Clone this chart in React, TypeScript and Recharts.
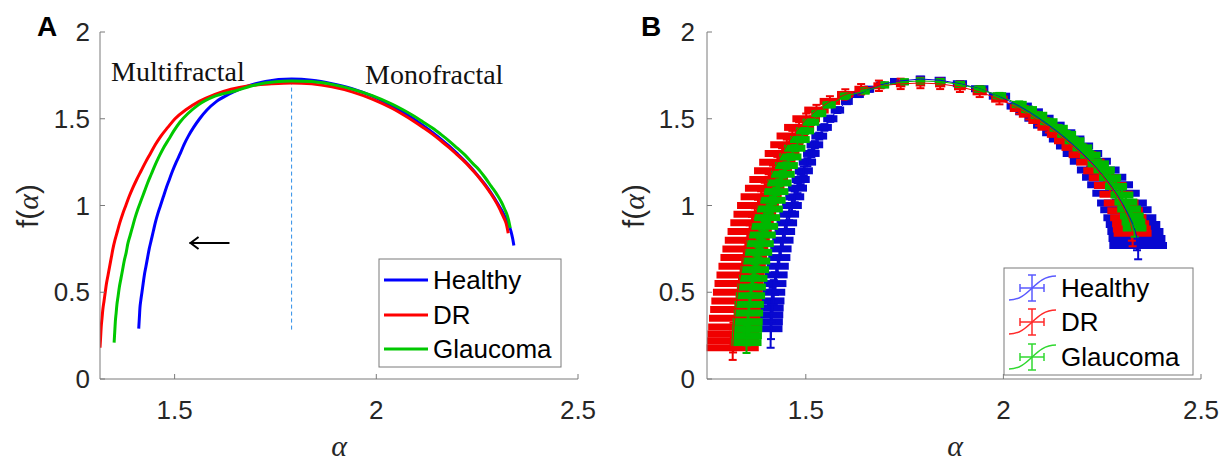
import React from "react";
import {
  ComposedChart,
  ScatterChart,
  Line,
  Scatter,
  ErrorBar,
  XAxis,
  YAxis,
  ReferenceLine,
} from "recharts";

// mean multifractal spectra (alpha, f(alpha))
const healthyAlpha = [
  1.411, 1.412, 1.413, 1.414, 1.416, 1.419, 1.422, 1.425, 1.429, 1.433, 1.437, 1.442, 1.447, 1.452, 1.458,
  1.465, 1.472, 1.479, 1.487, 1.495, 1.504, 1.514, 1.523, 1.534, 1.547, 1.562, 1.58, 1.604, 1.633, 1.66,
  1.69, 1.725, 1.79,
  1.84, 1.89, 1.94, 1.99, 2.04, 2.065, 2.09, 2.115, 2.14, 2.16, 2.18, 2.2, 2.22, 2.24, 2.255, 2.27, 2.285,
  2.3, 2.31, 2.32, 2.328, 2.334, 2.338, 2.341,
];
const healthyF = [
  0.29, 0.33, 0.37, 0.41, 0.45, 0.5, 0.55, 0.6, 0.65, 0.7, 0.75, 0.8, 0.85, 0.9, 0.95, 1.0, 1.05, 1.1,
  1.15, 1.2, 1.25, 1.3, 1.35, 1.4, 1.45, 1.5, 1.55, 1.6, 1.64, 1.67, 1.695, 1.715, 1.729,
  1.722, 1.702, 1.673, 1.63, 1.573, 1.54, 1.503, 1.463, 1.42, 1.383, 1.343, 1.3, 1.255, 1.205, 1.163, 1.12,
  1.07, 1.015, 0.975, 0.93, 0.89, 0.85, 0.81, 0.77,
];
const drAlpha = [
  1.315, 1.316, 1.317, 1.318, 1.32, 1.322, 1.325, 1.328, 1.331, 1.335, 1.339, 1.343, 1.347, 1.352, 1.358,
  1.364, 1.371, 1.379, 1.387, 1.396, 1.406, 1.417, 1.428, 1.44, 1.452, 1.466, 1.483, 1.501, 1.527, 1.561,
  1.6, 1.64, 1.685, 1.74, 1.79,
  1.84, 1.89, 1.94, 1.99, 2.04, 2.065, 2.09, 2.115, 2.14, 2.16, 2.18, 2.2, 2.22, 2.24, 2.255, 2.27, 2.285,
  2.298, 2.308, 2.316, 2.322, 2.325, 2.327,
];
const drF = [
  0.18, 0.22, 0.26, 0.3, 0.35, 0.4, 0.45, 0.5, 0.55, 0.6, 0.65, 0.7, 0.75, 0.8, 0.85, 0.9, 0.95, 1.0, 1.05,
  1.1, 1.15, 1.2, 1.25, 1.3, 1.35, 1.4, 1.45, 1.5, 1.55, 1.6, 1.64, 1.67, 1.69, 1.701, 1.706,
  1.701, 1.684, 1.655, 1.613, 1.559, 1.526, 1.49, 1.451, 1.41, 1.373, 1.335, 1.293, 1.25, 1.2, 1.16, 1.115,
  1.065, 1.015, 0.97, 0.93, 0.895, 0.865, 0.84,
];
const glaucomaAlpha = [
  1.35, 1.351, 1.352, 1.353, 1.355, 1.357, 1.36, 1.363, 1.367, 1.371, 1.375, 1.38, 1.384, 1.39, 1.396,
  1.402, 1.409, 1.417, 1.425, 1.433, 1.442, 1.451, 1.461, 1.472, 1.485, 1.498, 1.513, 1.533, 1.559, 1.6,
  1.65, 1.7, 1.75, 1.79,
  1.84, 1.89, 1.94, 1.99, 2.04, 2.065, 2.09, 2.115, 2.14, 2.16, 2.18, 2.2, 2.22, 2.24, 2.255, 2.27, 2.285,
  2.3, 2.31, 2.318, 2.325, 2.329, 2.332,
];
const glaucomaF = [
  0.21, 0.25, 0.29, 0.33, 0.38, 0.43, 0.48, 0.53, 0.58, 0.63, 0.68, 0.73, 0.78, 0.83, 0.88, 0.93, 0.98,
  1.03, 1.08, 1.13, 1.18, 1.23, 1.28, 1.33, 1.38, 1.43, 1.48, 1.53, 1.58, 1.63, 1.66, 1.695, 1.713, 1.718,
  1.714, 1.698, 1.671, 1.633, 1.583, 1.553, 1.52, 1.483, 1.445, 1.41, 1.373, 1.332, 1.29, 1.24, 1.205, 1.16,
  1.11, 1.06, 1.02, 0.98, 0.94, 0.905, 0.87,
];

// spread across subjects, drawn as error bars in panel B
const healthyErrA = [
  0.03, 0.03, 0.03, 0.03, 0.03, 0.029, 0.029, 0.029, 0.028, 0.028, 0.027, 0.027, 0.026, 0.026, 0.025, 0.025,
  0.024, 0.024, 0.023, 0.023, 0.022, 0.021, 0.021, 0.02, 0.019, 0.018, 0.017, 0.015, 0.014, 0.013, 0.012,
  0.012, 0.012,
  0.014, 0.018, 0.022, 0.027, 0.032, 0.035, 0.037, 0.04, 0.042, 0.045, 0.047, 0.05, 0.052, 0.054, 0.056,
  0.058, 0.06, 0.063, 0.065, 0.067, 0.069, 0.071, 0.072, 0.073,
];
const healthyErrF = [
  0.11, 0.1, 0.09, 0.08, 0.075, 0.07, 0.065, 0.06, 0.055, 0.05, 0.047, 0.044, 0.041, 0.038, 0.035, 0.033,
  0.031, 0.029, 0.027, 0.025, 0.023, 0.022, 0.021, 0.02, 0.019, 0.018, 0.017, 0.016, 0.015, 0.014, 0.013,
  0.013, 0.013,
  0.013, 0.014, 0.015, 0.016, 0.018, 0.019, 0.02, 0.021, 0.022, 0.024, 0.025, 0.027, 0.028, 0.03, 0.032,
  0.034, 0.036, 0.04, 0.043, 0.047, 0.052, 0.058, 0.068, 0.08,
];
const drErrA = [
  0.066, 0.066, 0.066, 0.065, 0.065, 0.064, 0.064, 0.063, 0.062, 0.061, 0.06, 0.059, 0.058, 0.057, 0.056,
  0.055, 0.054, 0.053, 0.052, 0.05, 0.049, 0.048, 0.046, 0.044, 0.042, 0.04, 0.038, 0.035, 0.031, 0.026,
  0.021, 0.017, 0.014, 0.012, 0.012,
  0.013, 0.015, 0.018, 0.021, 0.024, 0.026, 0.027, 0.029, 0.03, 0.032, 0.033, 0.035, 0.036, 0.038, 0.039,
  0.041, 0.042, 0.044, 0.045, 0.046, 0.047, 0.048, 0.048,
];
const drErrF = [
  0.07, 0.067, 0.064, 0.06, 0.056, 0.052, 0.048, 0.045, 0.043, 0.041, 0.04, 0.039, 0.038, 0.037, 0.036,
  0.035, 0.034, 0.033, 0.032, 0.031, 0.03, 0.03, 0.03, 0.03, 0.03, 0.03, 0.03, 0.03, 0.03, 0.03, 0.03, 0.03,
  0.03, 0.03, 0.03,
  0.03, 0.03, 0.03, 0.03, 0.03, 0.03, 0.03, 0.03, 0.03, 0.03, 0.03, 0.03, 0.031, 0.033, 0.035, 0.038, 0.042,
  0.046, 0.05, 0.056, 0.062, 0.068, 0.075,
];
const glaucomaErrA = [
  0.038, 0.038, 0.038, 0.038, 0.037, 0.037, 0.037, 0.036, 0.036, 0.036, 0.035, 0.035, 0.035, 0.034, 0.034,
  0.033, 0.033, 0.032, 0.031, 0.031, 0.03, 0.029, 0.028, 0.027, 0.025, 0.023, 0.021, 0.019, 0.017, 0.014,
  0.012, 0.011, 0.011, 0.011,
  0.012, 0.013, 0.015, 0.017, 0.019, 0.02, 0.021, 0.022, 0.023, 0.024, 0.025, 0.025, 0.026, 0.027, 0.027,
  0.028, 0.028, 0.029, 0.029, 0.03, 0.03, 0.03, 0.03,
];
const glaucomaErrF = [
  0.06, 0.056, 0.052, 0.048, 0.045, 0.042, 0.039, 0.036, 0.034, 0.032, 0.03, 0.029, 0.028, 0.027, 0.026,
  0.025, 0.024, 0.023, 0.022, 0.021, 0.02, 0.019, 0.018, 0.018, 0.017, 0.017, 0.016, 0.016, 0.015, 0.015,
  0.014, 0.014, 0.014, 0.014,
  0.014, 0.014, 0.015, 0.016, 0.017, 0.017, 0.018, 0.018, 0.019, 0.02, 0.021, 0.022, 0.023, 0.024, 0.025,
  0.027, 0.029, 0.031, 0.034, 0.037, 0.041, 0.045, 0.05,
];

const seriesNames = ["Healthy", "DR", "Glaucoma"];
const xTicks = [1.5, 2, 2.5];
const yTicks = [0, 0.5, 1, 1.5, 2];
const domainA = [1.315, 2.5];
const domainB = [1.25, 2.5];

// annotations in panel A (data units)
const peakAlpha = 1.79;
const dashTop = 1.72;
const dashBottom = 0.27;
const arrowFrom = 1.636;
const arrowTo = 1.537;
const arrowF = 0.784;

const SANS = '"Liberation Sans", Arial, Helvetica, sans-serif';
const SERIF = '"Liberation Serif", "Times New Roman", serif';
const AXIS = "#7a7a7a";
const TEXT = "#262626";

const LINE_COLORS = ["#0000ff", "#ff0000", "#00c800"];
const BAR_COLORS = ["#0808d0", "#f00000", "#00b800"];
const ICON_COLORS = ["#5a5aff", "#ff2a2a", "#30d830"];

const mk = (a: number[], f: number[], ea: number[], ef: number[]) =>
  a.map((x, i) => ({ a: x, f: f[i], ea: ea[i], ef: ef[i] }));

const rows = [
  mk(healthyAlpha, healthyF, healthyErrA, healthyErrF),
  mk(drAlpha, drF, drErrA, drErrF),
  mk(glaucomaAlpha, glaucomaF, glaucomaErrA, glaucomaErrF),
];

const tickStyle = { fontSize: 26, fill: TEXT, fontFamily: SANS };
const blank = () => "";

function frame(domain: number[], yWidth: number, yMargin: number) {
  return [
    <XAxis
      key="xb"
      dataKey="a"
      type="number"
      domain={domain}
      allowDataOverflow
      ticks={xTicks}
      interval={0}
      tickSize={-5}
      tickMargin={27}
      height={86}
      tick={tickStyle}
      axisLine={{ stroke: AXIS }}
      tickLine={{ stroke: AXIS }}
    />,
    <XAxis
      key="xt"
      xAxisId="top"
      orientation="top"
      type="number"
      domain={domain}
      allowDataOverflow
      ticks={xTicks}
      interval={0}
      tickSize={-5}
      height={0}
      tickFormatter={blank}
      axisLine={{ stroke: AXIS }}
      tickLine={{ stroke: AXIS }}
    />,
    <YAxis
      key="yl"
      dataKey="f"
      type="number"
      domain={[0, 2]}
      allowDataOverflow
      ticks={yTicks}
      interval={0}
      tickSize={-5}
      tickMargin={yMargin}
      width={yWidth}
      tick={tickStyle}
      axisLine={{ stroke: AXIS }}
      tickLine={{ stroke: AXIS }}
    />,
    <YAxis
      key="yr"
      yAxisId="right"
      orientation="right"
      type="number"
      domain={[0, 2]}
      allowDataOverflow
      ticks={yTicks}
      interval={0}
      tickSize={-5}
      width={0}
      tickFormatter={blank}
      axisLine={{ stroke: AXIS }}
      tickLine={{ stroke: AXIS }}
    />,
  ];
}

function ArrowShape(p: any) {
  const { x1, y1, x2, y2 } = p;
  return (
    <g>
      <line x1={x1} y1={y1} x2={x2} y2={y2} stroke="#000" strokeWidth={2} />
      <polyline
        points={`${x2 + 9},${y2 - 6} ${x2 + 1},${y2} ${x2 + 9},${y2 + 6}`}
        fill="none"
        stroke="#000"
        strokeWidth={2}
      />
    </g>
  );
}

function FLabel({ x, y }: { x: number; y: number }) {
  return (
    <text transform={`translate(${x},${y}) rotate(-90)`} textAnchor="middle" fontSize={30} fill={TEXT}>
      <tspan fontFamily={SANS}>f(</tspan>
      <tspan fontFamily={SERIF} fontStyle="italic">
        α
      </tspan>
      <tspan fontFamily={SANS}>)</tspan>
    </text>
  );
}

function Overlay() {
  const rowsA = [280, 315, 349];
  const rowsB = [288, 322, 357];
  return (
    <svg
      width={1226}
      height={465}
      style={{ position: "absolute", left: 0, top: 0, pointerEvents: "none" }}
    >
      <text x={37} y={36} fontSize={28} fontWeight="bold" fontFamily={SANS} fill="#000">
        A
      </text>
      <text x={641} y={36} fontSize={28} fontWeight="bold" fontFamily={SANS} fill="#000">
        B
      </text>
      <FLabel x={38} y={206} />
      <FLabel x={644} y={206} />
      <text x={339} y={456} textAnchor="middle" fontSize={30} fontStyle="italic" fontFamily={SERIF} fill={TEXT}>
        α
      </text>
      <text x={955} y={456} textAnchor="middle" fontSize={30} fontStyle="italic" fontFamily={SERIF} fill={TEXT}>
        α
      </text>
      <text x={111} y={81} fontSize={28} fontFamily={SERIF} fill="#111">
        Multifractal
      </text>
      <text x={365} y={84} fontSize={28} fontFamily={SERIF} fill="#111">
        Monofractal
      </text>

      {/* legend A */}
      <rect x={379} y={259} width={182} height={108} fill="#fff" stroke={AXIS} />
      {seriesNames.map((n, i) => (
        <g key={n}>
          <line x1={384} x2={428} y1={rowsA[i]} y2={rowsA[i]} stroke={LINE_COLORS[i]} strokeWidth={3} />
          <text x={433} y={rowsA[i] + 9} fontSize={26} fontFamily={SANS} fill="#000">
            {n}
          </text>
        </g>
      ))}

      {/* legend B */}
      <rect x={1004} y={268} width={189} height={107} fill="#fff" stroke={AXIS} />
      {seriesNames.map((n, i) => {
        const y = rowsB[i];
        const c = ICON_COLORS[i];
        return (
          <g key={n} fill="none" stroke={c} strokeWidth={1.5}>
            <path d={`M1009,${y + 12} C1030,${y + 12} 1034,${y - 12} 1056,${y - 12}`} />
            <line x1={1032} x2={1032} y1={y - 13} y2={y + 13} />
            <line x1={1028} x2={1036} y1={y - 13} y2={y - 13} />
            <line x1={1028} x2={1036} y1={y + 13} y2={y + 13} />
            <line x1={1020} x2={1044} y1={y} y2={y} />
            <line x1={1020} x2={1020} y1={y - 4} y2={y + 4} />
            <line x1={1044} x2={1044} y1={y - 4} y2={y + 4} />
            <text x={1061} y={y + 9} fontSize={26} fontFamily={SANS} fill="#000" stroke="none">
              {n}
            </text>
          </g>
        );
      })}
    </svg>
  );
}

const noDot = () => <g />;

export default function App() {
  return (
    <div
      style={{
        position: "absolute",
        left: 0,
        top: 0,
        width: 1226,
        height: 465,
        background: "#fff",
        fontFamily: SANS,
      }}
    >
      <div style={{ position: "absolute", left: 0, top: 0 }}>
        <ComposedChart width={610} height={465} margin={{ top: 32, right: 32, bottom: 0, left: 0 }}>
          {frame(domainA, 100, 15)}
          <ReferenceLine
            segment={[
              { x: peakAlpha, y: dashTop },
              { x: peakAlpha, y: dashBottom },
            ]}
            stroke="#2f8fe8"
            strokeDasharray="4 3"
            strokeWidth={1}
          />
          <ReferenceLine
            segment={[
              { x: arrowFrom, y: arrowF },
              { x: arrowTo, y: arrowF },
            ]}
            shape={ArrowShape}
          />
          {rows.map((d, i) => (
            <Line
              key={seriesNames[i]}
              data={d}
              dataKey="f"
              type="monotone"
              stroke={LINE_COLORS[i]}
              strokeWidth={3}
              dot={false}
              activeDot={false}
              isAnimationActive={false}
            />
          ))}
        </ComposedChart>
      </div>

      <div style={{ position: "absolute", left: 610, top: 0 }}>
        <ScatterChart width={616} height={465} margin={{ top: 32, right: 25, bottom: 0, left: 0 }}>
          {frame(domainB, 97, 17)}
          {rows.map((d, i) => (
            <Scatter
              key={seriesNames[i]}
              data={d}
              fill={BAR_COLORS[i]}
              shape={noDot}
              line={{ stroke: BAR_COLORS[i], strokeWidth: 1 }}
              lineType="joint"
              isAnimationActive={false}
            >
              <ErrorBar
                dataKey="ea"
                direction="x"
                stroke={BAR_COLORS[i]}
                strokeWidth={7}
                width={0}
                isAnimationActive={false}
              />
              <ErrorBar
                dataKey="ef"
                direction="y"
                stroke={BAR_COLORS[i]}
                strokeWidth={2}
                width={4}
                isAnimationActive={false}
              />
            </Scatter>
          ))}
        </ScatterChart>
      </div>

      <Overlay />
    </div>
  );
}
